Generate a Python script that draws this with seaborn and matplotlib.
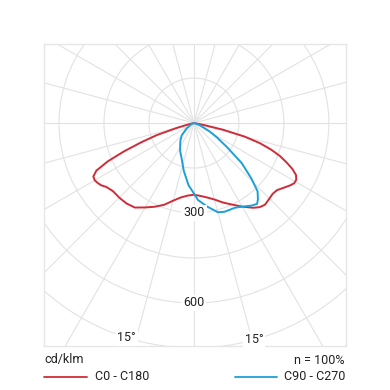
"""Polar light distribution curve (cd/klm) for C0-C180 and C90-C270 planes."""

import matplotlib

matplotlib.use("Agg")

import matplotlib.pyplot as plt
import numpy as np
import pandas as pd
import seaborn as sns
from matplotlib.lines import Line2D
from matplotlib.patches import Circle

# gamma angles in degrees from nadir, negative = left half-plane
red_angles = [-90, -80, -76, -74, -72, -70, -68, -66, -64, -62, -60, -58, -56, -54, -50,
              -45, -40, -35, -30, -25, -20, -15, -10, -5, 0,
              5, 10, 15, 20, 25, 30, 35, 38, 41, 45, 48, 51, 54, 57, 59, 61,
              63, 65, 67, 69, 71, 73, 75, 77, 79, 82, 90]
red_values = [0, 0, 20, 60, 130, 185, 250, 315, 362, 380, 382, 378, 372, 362, 353,
              352, 350, 344, 325, 308, 290, 268, 252, 243, 239,
              244, 252, 264, 282, 300, 322, 345, 356, 361, 356, 353, 356, 368, 382, 390, 390,
              382, 362, 335, 307, 272, 230, 175, 100, 30, 0, 0]

blue_angles = [-90, -75, -65, -54, -45, -38, -32, -26, -20, -12, -5, 0,
               3, 9, 15, 19, 26, 32, 35, 38, 40, 43, 46, 50, 54, 58, 62, 70, 80, 90]
blue_values = [0, 0, 10, 30, 57, 73, 87, 105, 122, 163, 208, 235,
               257, 282, 308, 313, 314, 327, 336, 342, 332, 311, 266, 208, 135, 90, 58, 20, 0, 0]

series_names = ["C0 - C180", "C90 - C270"]
series_colors = ["#d02c38", "#1d9fd9"]
ring_values = [150, 300, 450, 600, 750, 900]
ring_labels = {300: "300", 600: "600"}
angle_label = "15°"
unit_label = "cd/klm"
ratio_label = "n = 100%"

grid_color = "#e2e2e2"

frames = []
for name, ang, val in [(series_names[0], red_angles, red_values),
                       (series_names[1], blue_angles, blue_values)]:
    g = np.radians(ang)
    v = np.asarray(val, dtype=float)
    frames.append(pd.DataFrame({"x": v * np.sin(g), "y": -v * np.cos(g),
                                "plane": name, "order": np.arange(len(v))}))
df = pd.concat(frames, ignore_index=True)

sns.set_theme(style="white")
plt.rcParams["font.family"] = ["Roboto", "DejaVu Sans"]

W = 390.0
fig = plt.figure(figsize=(3.9, 3.9), dpi=100)
ax = fig.add_axes([44 / W, 44 / W, 302 / W, 302 / W])
ax.set_xlim(-500, 507)
ax.set_ylim(-743, 263)
ax.set_aspect("equal", adjustable="box")
ax.set_xticks([])
ax.set_yticks([])
for sp in ax.spines.values():
    sp.set_color("#e6e6e6")
    sp.set_linewidth(1.0)

# grid: rings and 15 degree rays
for r in ring_values:
    ax.add_patch(Circle((0, 0), r, fill=False, ec=grid_color, lw=0.8, zorder=1))
for a in np.arange(0, 360, 15):
    t = np.radians(a)
    ax.plot([0, 1100 * np.sin(t)], [0, -1100 * np.cos(t)], color=grid_color, lw=0.8, zorder=1)

for name, color in zip(series_names, series_colors):
    sub = df[df["plane"] == name]
    sns.lineplot(data=sub, x="x", y="y", sort=False, color=color, lw=1.4,
                 ax=ax, legend=False, zorder=3, estimator=None)
ax.set_xlabel("")
ax.set_ylabel("")

box = dict(boxstyle="square,pad=0.15", fc="white", ec="none")
for r, lab in ring_labels.items():
    ax.text(0, -r, lab, ha="center", va="center", fontsize=9, color="#222222",
            bbox=box, zorder=4)
for a in (-17.5, 15.5):
    t = np.radians(a)
    ax.text(750 * np.sin(t), -750 * np.cos(t), angle_label, ha="center", va="center",
            fontsize=9, color="#222222", bbox=box, zorder=4)

ty = 1 - 360 / W
ly = 1 - 377 / W
fig.text(44 / W, ty, unit_label, ha="left", va="center", fontsize=9, color="#222222")
fig.text(345 / W, ty, ratio_label, ha="right", va="center", fontsize=9, color="#222222")
fig.add_artist(Line2D([44 / W, 87 / W], [ly, ly], color=series_colors[0], lw=1.3))
fig.text(95 / W, ly, series_names[0], ha="left", va="center", fontsize=9, color="#222222")
fig.add_artist(Line2D([235 / W, 277 / W], [ly, ly], color=series_colors[1], lw=1.3))
fig.text(345 / W, ly, series_names[1], ha="right", va="center", fontsize=9, color="#222222")

fig.savefig("out.png", dpi=100, facecolor="white")
